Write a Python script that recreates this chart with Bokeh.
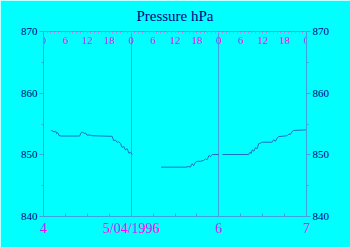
from bokeh.plotting import figure
from bokeh.models import Range1d, LinearAxis, FixedTicker
from bokeh.core.properties import value
from bokeh.embed import file_html
from bokeh.resources import INLINE

nan = float("nan")

# hours since 4/04/1996 00:00
hours = [2.1, 2.5, 2.9, 3.3, 3.6, 3.9, 4.3, 4.9, 9.9, 10.3, 10.7, 11.1, 11.5, 11.9, 12.9, 13.3,
         18.8, 19.2, 19.7, 20.2, 20.6, 21.1, 21.5, 22.0, 22.4, 22.9, 23.4, 23.8, 24.3,
         nan,
         32.2, 38.9, 39.8, 40.2, 40.7, 41.1, 41.6, 42.1, 43.0, 43.9, 44.3, 44.8, 45.3, 45.7, 46.2, 48.0,
         nan,
         49.0, 56.2, 56.5, 56.9, 57.1, 57.6, 58.0, 58.5, 58.9, 59.4, 59.9, 62.6, 63.0, 63.5, 64.0,
         64.4, 66.7, 67.2, 67.6, 68.1, 68.5, 72.0]
pressure = [853.94, 853.86, 853.7, 853.86, 853.45, 853.6, 853.1, 853.05, 853.05, 853.6, 853.7, 853.45,
            853.55, 853.2, 853.2, 853.1, 853.0, 852.3, 852.4, 852.0, 852.15, 851.8, 851.2, 851.35,
            850.8, 851.0, 850.25, 850.4, 850.05,
            nan,
            848.0, 848.0, 848.1, 848.0, 848.55, 848.25, 848.8, 848.95, 848.95, 849.1, 849.35, 849.2,
            849.9, 849.7, 850.05, 850.05,
            nan,
            850.05, 850.05, 850.4, 850.25, 850.8, 850.6, 851.15, 851.0, 851.8, 851.9, 852.05, 852.05,
            852.45, 852.2, 852.75, 852.95, 853.1, 853.4, 853.3, 853.8, 853.95, 854.05]

day_ticks = [0, 24, 48, 72]
day_labels = ["4", "5/04/1996", "6", "7"]
hour_ticks = [0, 6, 12, 18, 24, 30, 36, 42, 48, 54, 60, 66, 72]
hour_labels = ["0", "6", "12", "18", "0", "6", "12", "18", "0", "6", "12", "18", "0"]
hour_minor = list(range(0, 73))
y_ticks = [840, 850, 860, 870]
y_minor = [845, 855, 865]
title_text = "Pressure hPa"

BG = "#00ffff"
NAVY = "#000080"
MAG = "#ff00ff"
AX = "#40a0e0"
LINE = "#1f6fc4"
SERIF = "Liberation Serif"

p = figure(width=350, height=247, output_backend="svg", toolbar_location=None,
           x_range=Range1d(0, 72), y_range=Range1d(840, 870),
           x_axis_location=None, y_axis_location=None,
           min_border_left=43, min_border_right=44, min_border_top=31, min_border_bottom=31)
p.background_fill_color = BG
p.border_fill_color = BG
p.outline_line_color = None

# bottom axis (days)
bx = LinearAxis(ticker=FixedTicker(ticks=day_ticks, minor_ticks=[6, 12, 18, 30, 36, 42, 54, 60, 66]))
bx.major_label_overrides = {t: l for t, l in zip(day_ticks, day_labels)}
bx.axis_line_color = AX
bx.major_tick_line_color = AX
bx.minor_tick_line_color = AX
bx.major_tick_in = 3
bx.major_tick_out = 0
bx.minor_tick_in = 3
bx.minor_tick_out = 0
bx.major_label_text_color = MAG
bx.major_label_text_font = SERIF
bx.major_label_text_font_size = "14px"
bx.major_label_standoff = 4
p.add_layout(bx, "below")

# top axis: hourly dots, carries the title as its axis label
tx = LinearAxis(ticker=FixedTicker(ticks=[], minor_ticks=hour_minor))
tx.axis_line_color = AX
tx.minor_tick_line_color = "#c080e0"
tx.minor_tick_in = 2
tx.minor_tick_out = 0
tx.axis_label = title_text
tx.axis_label_text_color = NAVY
tx.axis_label_text_font = SERIF
tx.axis_label_text_font_style = "normal"
tx.axis_label_text_font_size = "15px"
tx.axis_label_standoff = 8
p.add_layout(tx, "above")

for side, standoff in (("left", 2), ("right", 2)):
    ax = LinearAxis(ticker=FixedTicker(ticks=y_ticks, minor_ticks=y_minor))
    ax.axis_line_color = AX
    ax.major_tick_line_color = AX
    ax.minor_tick_line_color = AX
    ax.major_tick_in = 0
    ax.major_tick_out = 4
    ax.minor_tick_in = 0
    ax.minor_tick_out = 2
    ax.major_label_text_color = NAVY
    ax.major_label_text_font = SERIF
    ax.major_label_text_font_size = "11px"
    ax.major_label_standoff = standoff
    p.add_layout(ax, side)

# day gridlines
p.xgrid.ticker = FixedTicker(ticks=[24, 48])
p.xgrid.grid_line_color = AX
p.xgrid.grid_line_width = 1
p.ygrid.grid_line_color = None

# hour labels under the top edge
p.text(x=hour_ticks, y=[870] * len(hour_ticks), text=hour_labels,
       text_color=MAG, text_font=value(SERIF), text_font_size="11px",
       text_align="center", text_baseline="top", y_offset=5)

p.line(hours, pressure, line_color=LINE, line_width=1)

open("out.html", "w").write(file_html(p, INLINE))
